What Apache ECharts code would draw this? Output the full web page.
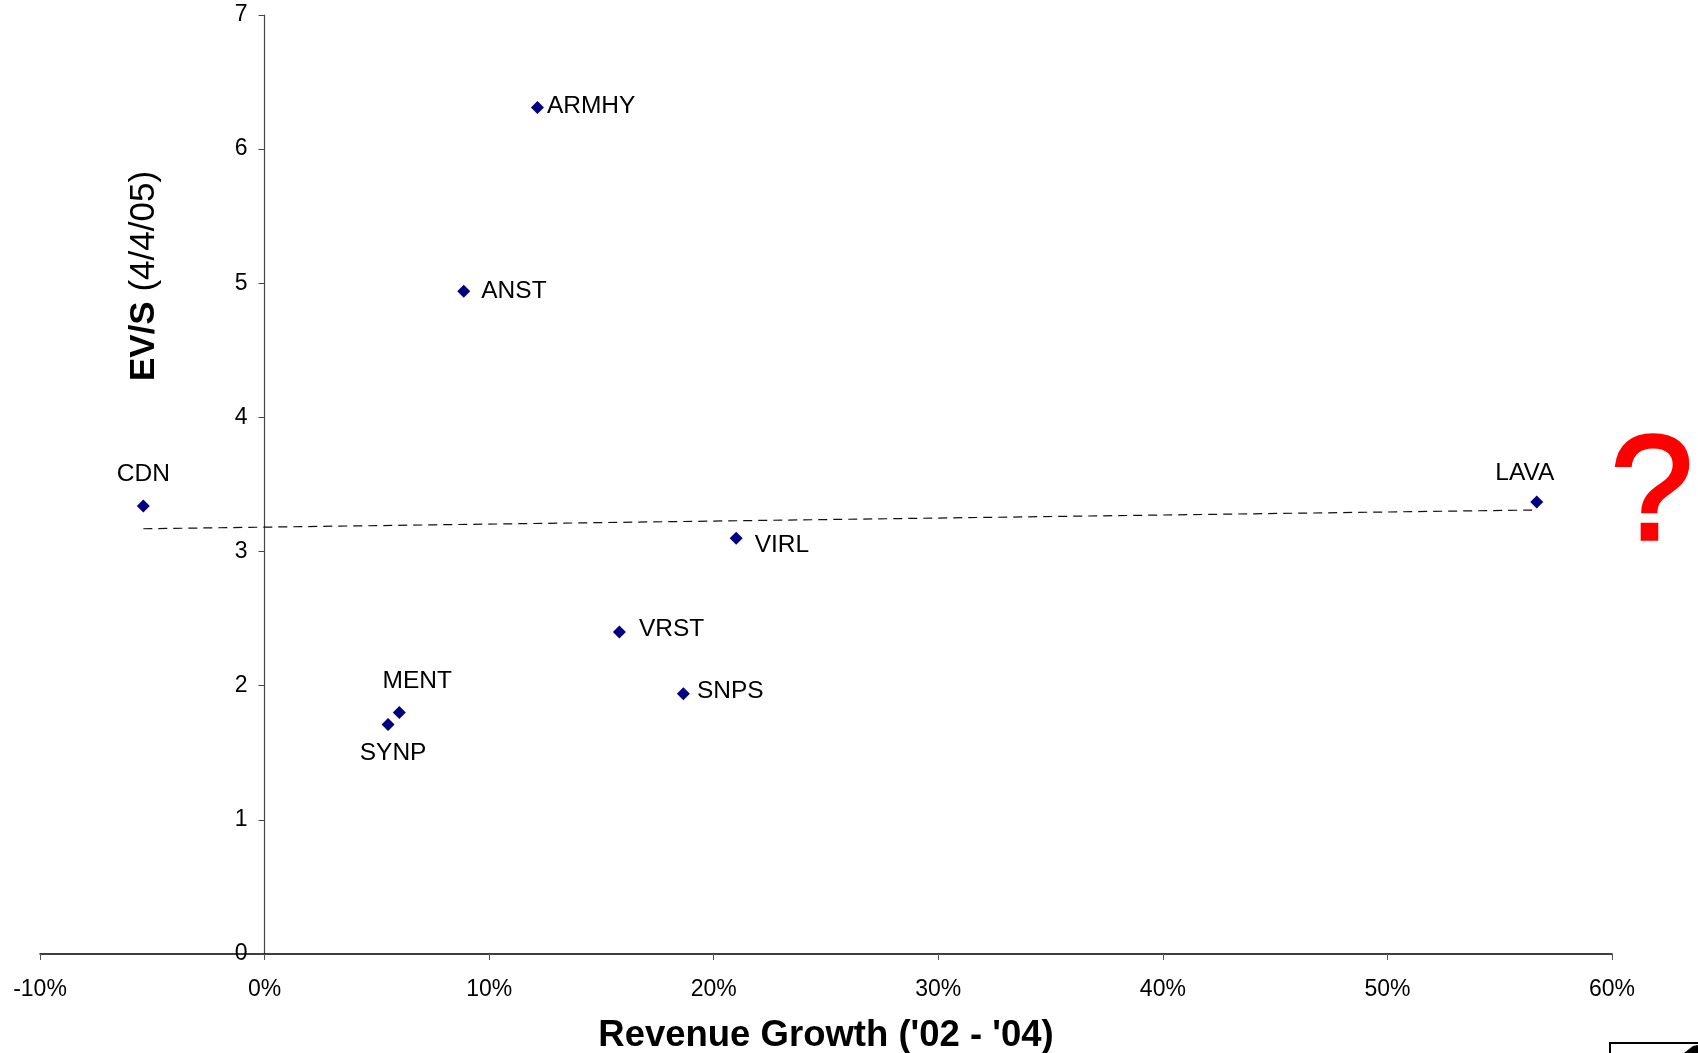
<!DOCTYPE html>
<html>
<head>
<meta charset="utf-8">
<style>
  html, body { margin: 0; padding: 0; background: #fff; }
  #chart { width: 1698px; height: 1053px; }
</style>
<script src="https://cdn.jsdelivr.net/npm/echarts@6/dist/echarts.min.js"></script>
</head>
<body>
<div id="chart"></div>
<script>
// data
var tickers = ['CDN', 'ARMHY', 'ANST', 'LAVA', 'VIRL', 'VRST', 'SNPS', 'MENT', 'SYNP'];
var growth  = [-5.4, 12.15, 8.87, 56.65, 21.0, 15.8, 18.65, 6.0, 5.5];   // revenue growth '02-'04, %
var evs     = [3.34, 6.31, 4.94, 3.37, 3.10, 2.40, 1.94, 1.80, 1.71];     // EV/S (4/4/05)
var trendX  = [-5.4, 56.6];
var trendY  = [3.17, 3.31];

var FONT = 'Liberation Sans, Arial, sans-serif';

// where each ticker label sits next to its marker
var labelPlace = {
    CDN:   { position: 'top',    distance: 13,  offset: [0, 0] },
    ARMHY: { position: 'right',  distance: 3,   offset: [0, -1] },
    ANST:  { position: 'right',  distance: 11,  offset: [0, 0] },
    LAVA:  { position: 'top',    distance: 10,  offset: [-12, 0] },
    VIRL:  { position: 'right',  distance: 12,  offset: [0, 7] },
    VRST:  { position: 'right',  distance: 13,  offset: [0, -3] },
    SNPS:  { position: 'right',  distance: 7,   offset: [0, -3] },
    MENT:  { position: 'top',    distance: 12,  offset: [18, 0] },
    SYNP:  { position: 'bottom', distance: 10,  offset: [5, 0] }
};

var chart = echarts.init(document.getElementById('chart'));

var points = tickers.map(function (t, i) {
    var p = labelPlace[t];
    return {
        name: t,
        value: [growth[i], evs[i]],
        label: { show: true, position: p.position, distance: p.distance, offset: p.offset }
    };
});

// y axis sits on x = 0, so shift it right from the grid's left edge
var gridLeft = 40, gridRight = 86, xMin = -10, xMax = 60;
var plotW = 1698 - gridLeft - gridRight;
var yAxisShift = -plotW * (0 - xMin) / (xMax - xMin);

var option = {
    animation: false,
    backgroundColor: '#fff',
    grid: { left: gridLeft, right: gridRight, top: 15, bottom: 99, containLabel: false },
    xAxis: {
        type: 'value',
        min: xMin,
        max: xMax,
        interval: 10,
        axisLine: { onZero: false, lineStyle: { color: '#000', width: 1.5 } },
        axisTick: { show: true, length: 6, lineStyle: { color: '#555' } },
        axisLabel: { formatter: '{value}%', fontSize: 23, color: '#000', fontFamily: FONT, margin: 24 },
        splitLine: { show: false }
    },
    yAxis: {
        type: 'value',
        min: 0,
        max: 7,
        interval: 1,
        position: 'left',
        offset: yAxisShift,
        axisLine: { show: true, onZero: false, lineStyle: { color: '#444', width: 1.2 } },
        axisTick: { show: true, length: 6, lineStyle: { color: '#444' } },
        axisLabel: { fontSize: 23, color: '#000', fontFamily: FONT, margin: 17 },
        splitLine: { show: false }
    },
    series: [{
        // trend line
        type: 'line',
        data: [[trendX[0], trendY[0]], [trendX[1], trendY[1]]],
        symbol: 'none',
        silent: true,
        lineStyle: { color: '#111', width: 1.2, type: [9, 6] },
        z: 1
    }, {
        type: 'scatter',
        symbol: 'diamond',
        symbolSize: 13,
        itemStyle: { color: '#000080', opacity: 1 },
        label: {
            formatter: '{b}',
            fontSize: 24.5,
            color: '#000',
            fontFamily: FONT
        },
        data: points,
        z: 3
    }],
    graphic: [{
        type: 'text',
        x: 826,
        y: 1036,
        style: {
            text: "Revenue Growth ('02 - '04)",
            font: 'bold 36.5px ' + FONT,
            fill: '#000',
            align: 'center',
            verticalAlign: 'middle'
        }
    }, {
        type: 'text',
        x: 144,
        y: 276,
        rotation: Math.PI / 2,
        style: {
            text: '{b|EV/S} {n|(4/4/05)}',
            align: 'center',
            verticalAlign: 'middle',
            fill: '#000',
            rich: {
                b: { font: 'bold 35px ' + FONT, fill: '#000' },
                n: { font: '35px ' + FONT, fill: '#000' }
            },
            font: '35px ' + FONT
        }
    }, {
        type: 'text',
        x: 1652,
        y: 498,
        style: {
            text: '?',
            font: '148px ' + FONT,
            fill: '#ff0000',
            stroke: '#ff0000',
            lineWidth: 3.5,
            align: 'center',
            verticalAlign: 'middle'
        }
    }, {
        // cut-off object in the bottom right corner
        type: 'rect',
        shape: { x: 1610, y: 1043, width: 100, height: 30 },
        style: { fill: '#fff', stroke: '#000', lineWidth: 2 }
    }, {
        type: 'polygon',
        shape: { points: [[1684, 1053], [1693, 1046], [1698, 1045], [1698, 1053]] },
        style: { fill: '#000' }
    }]
};

chart.setOption(option);
</script>
</body>
</html>
